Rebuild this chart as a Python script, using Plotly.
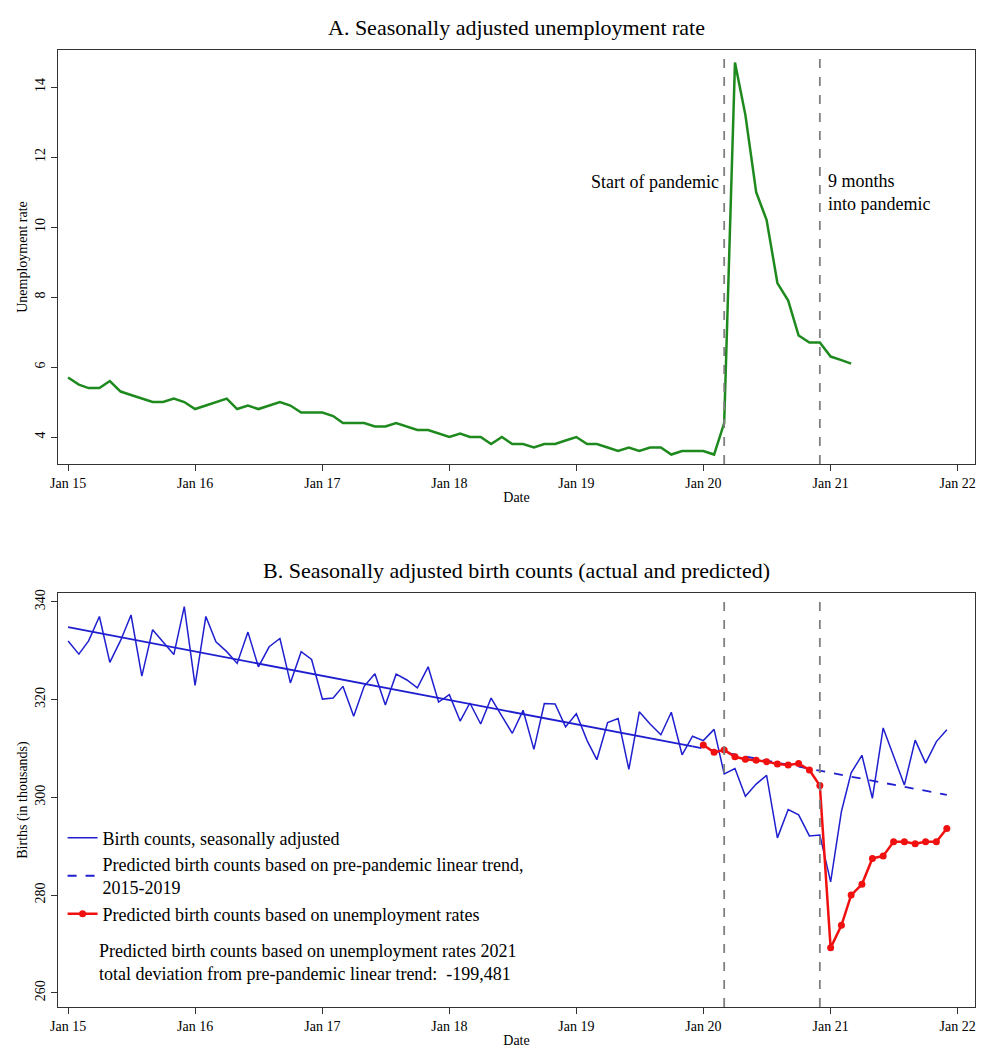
import pandas as pd
import plotly.graph_objects as go

# --- DATA ---
unemp = [5.7, 5.5, 5.4, 5.4, 5.6, 5.3, 5.2, 5.1, 5.0, 5.0, 5.1, 5.0,
         4.8, 4.9, 5.0, 5.1, 4.8, 4.9, 4.8, 4.9, 5.0, 4.9, 4.7, 4.7,
         4.7, 4.6, 4.4, 4.4, 4.4, 4.3, 4.3, 4.4, 4.3, 4.2, 4.2, 4.1,
         4.0, 4.1, 4.0, 4.0, 3.8, 4.0, 3.8, 3.8, 3.7, 3.8, 3.8, 3.9,
         4.0, 3.8, 3.8, 3.7, 3.6, 3.7, 3.6, 3.7, 3.7, 3.5, 3.6, 3.6,
         3.6, 3.5, 4.4, 14.7, 13.2, 11.0, 10.2, 8.4, 7.9, 6.9, 6.7, 6.7,
         6.3, 6.2, 6.1]

births = [332.0, 329.3, 332.0, 337.0, 327.6, 332.1, 337.3, 324.8, 334.3, 331.8, 329.2, 339.0,
          322.9, 337.0, 331.8, 329.8, 327.4, 333.8, 326.7, 330.8, 332.5, 323.4, 329.8, 328.2,
          320.1, 320.3, 322.7, 316.6, 322.7, 325.3, 318.9, 325.2, 324.0, 322.4, 326.7, 319.5,
          321.0, 315.6, 319.3, 315.0, 320.3, 316.6, 313.1, 317.8, 309.8, 319.2, 319.1, 314.4,
          317.1, 311.6, 307.7, 315.3, 316.1, 305.7, 317.5, 315.0, 312.8, 317.4, 308.7, 312.5,
          311.6, 313.9, 304.8, 305.9, 300.2, 302.7, 304.5, 291.7, 297.5, 296.4, 292.1, 292.3,
          282.7, 297.1, 305.0, 308.6, 299.8, 314.2, 308.6, 302.5, 311.7, 307.0, 311.4, 313.8]

pred_unemp = [310.7, 309.2, 309.7, 308.3, 307.8, 307.6, 307.3, 306.8, 306.6, 306.9, 305.6, 302.4,
              269.2, 273.8, 280.0, 282.2, 287.5, 288.0, 290.9, 290.9, 290.5, 290.9, 290.9, 293.6]

trend_dates = ["2015-01-01", "2019-12-01", "2021-12-01"]
trend_vals = [334.8, 310.4, 300.5]

events = ["2020-03-01", "2020-12-01"]
tick_dates = [f"20{y}-01-01" for y in range(15, 23)]
tick_text = [f"Jan {y}" for y in range(15, 23)]

dates_u = pd.date_range("2015-01-01", periods=len(unemp), freq="MS")
dates_b = pd.date_range("2015-01-01", periods=len(births), freq="MS")
dates_p = pd.date_range("2020-01-01", periods=len(pred_unemp), freq="MS")

FONT = "Liberation Serif"
BLUE = "#1f1fd0"

fig = go.Figure()
fig.add_trace(go.Scatter(x=dates_u, y=unemp, mode="lines", line=dict(color="#1e8a1e", width=2.5),
                         showlegend=False, xaxis="x", yaxis="y"))
fig.add_trace(go.Scatter(x=dates_b, y=births, mode="lines", line=dict(color=BLUE, width=1.5),
                         name="Birth counts, seasonally adjusted", xaxis="x2", yaxis="y2"))
fig.add_trace(go.Scatter(x=trend_dates[:2], y=trend_vals[:2], mode="lines", line=dict(color=BLUE, width=1.8),
                         showlegend=False, xaxis="x2", yaxis="y2"))
fig.add_trace(go.Scatter(x=trend_dates[1:], y=trend_vals[1:], mode="lines", line=dict(color=BLUE, width=1.8, dash="dash"),
                         name="Predicted birth counts based on pre-pandemic linear trend,<br>2015-2019",
                         xaxis="x2", yaxis="y2"))
fig.add_trace(go.Scatter(x=dates_p, y=pred_unemp, mode="lines+markers", line=dict(color="#f01010", width=2.5),
                         marker=dict(size=7, color="#f01010"),
                         name="Predicted birth counts based on unemployment rates", xaxis="x2", yaxis="y2"))

for xr in ["x", "x2"]:
    for d in events:
        fig.add_shape(type="line", x0=d, x1=d, xref=xr, y0=0, y1=1,
                      yref=("y" if xr == "x" else "y2") + " domain",
                      line=dict(color="gray", width=1.8, dash="dash"))

axis_common = dict(showline=True, linecolor="#333", mirror=True, ticks="outside", ticklen=6,
                   tickcolor="#333", showgrid=False, zeroline=False, automargin=False,
                   tickfont=dict(size=14, family=FONT, color="black"))
xrange = ["2014-12-03", "2022-02-20"]
fig.update_layout(
    width=975, height=1040, plot_bgcolor="white", paper_bgcolor="white",
    margin=dict(l=50, r=8, t=42, b=41),
    font=dict(family=FONT, color="black"),
    xaxis=dict(domain=[0, 1], anchor="y", range=xrange, tickvals=tick_dates, ticktext=tick_text,
               title=dict(text="Date", font=dict(size=14), standoff=2), **axis_common),
    yaxis=dict(domain=[0.5674, 1], anchor="x", range=[3.23, 15.06], tickvals=[4, 6, 8, 10, 12, 14],
               tickangle=-90, title=dict(text="Unemployment rate", font=dict(size=14), standoff=2), **axis_common),
    xaxis2=dict(domain=[0, 1], anchor="y2", range=xrange, tickvals=tick_dates, ticktext=tick_text,
                title=dict(text="Date", font=dict(size=14), standoff=2), **axis_common),
    yaxis2=dict(domain=[0, 0.4326], anchor="x2", range=[257.1, 341.8], tickvals=[260, 280, 300, 320, 340],
                tickangle=-90, title=dict(text="Births (in thousands)", font=dict(size=14), standoff=2), **axis_common),
    legend=dict(x=0.005, y=0.196, xanchor="left", yanchor="top", bgcolor="rgba(0,0,0,0)",
                font=dict(size=18, family=FONT), tracegroupgap=0, itemwidth=30),
    annotations=[
        dict(text="A. Seasonally adjusted unemployment rate", xref="paper", yref="paper", x=0.5, y=1,
             yshift=8, yanchor="bottom", showarrow=False, font=dict(size=22)),
        dict(text="B. Seasonally adjusted birth counts (actual and predicted)", xref="paper", yref="paper",
             x=0.5, y=0.4326, yshift=8, yanchor="bottom", showarrow=False, font=dict(size=22)),
        dict(text="Start of pandemic", xref="x", yref="y", x="2020-02-20", y=11.3, xanchor="right",
             showarrow=False, font=dict(size=18)),
        dict(text="9 months<br>into pandemic", xref="x", yref="y", x="2020-12-20", y=11.0, xanchor="left",
             align="left", showarrow=False, font=dict(size=18)),
        dict(text="Predicted birth counts based on unemployment rates 2021<br>total deviation from pre-pandemic linear trend:  -199,481",
             xref="paper", yref="y2", x=0.043, y=266.3, xanchor="left", align="left",
             showarrow=False, font=dict(size=18)),
    ],
)

fig.write_html("out.html")
